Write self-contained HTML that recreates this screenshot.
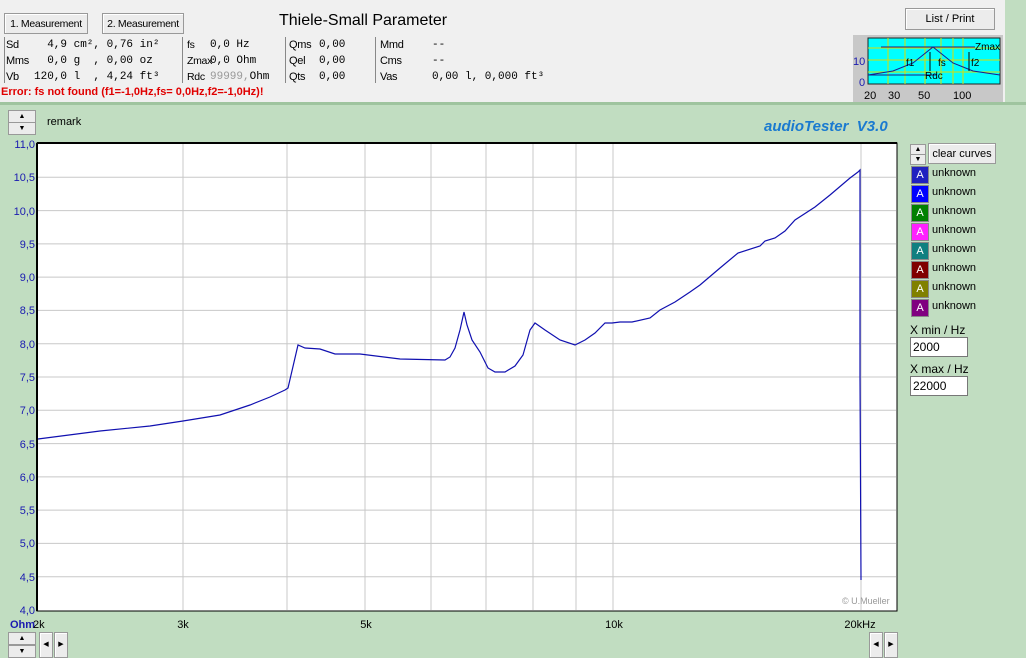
<!DOCTYPE html>
<html><head><style>
body{margin:0;width:1026px;height:657px;overflow:hidden;background:#c1ddc1;font-family:"Liberation Sans",sans-serif;position:relative}
.a{position:absolute;white-space:nowrap}
.top{left:0;top:0;width:1005px;height:102px;background:#f0f0f0}
.btn{background:#ececec;border:1px solid #999;box-shadow:inset 1px 1px #fff;font-size:11px;text-align:center;line-height:20px;white-space:nowrap;overflow:hidden}
.m{font-family:"Liberation Mono",monospace;font-size:11px}
.s{font-size:11px;letter-spacing:-0.3px}
.leg{left:911px;width:16px;height:16px;color:#fff;font-size:11px;text-align:center;line-height:16px;border:1px solid #888}
.lt{left:932px;font-size:11px}
.spin{width:26px;height:11px;background:#ececec;border:1px solid #999;font-size:7px;text-align:center;line-height:11px}
</style></head><body>
<div class="a top"></div>
<div class="a" style="left:0;top:102px;width:1026px;height:3px;background:#9fc49f"></div>
<div class="a btn" style="left:4px;top:13px;width:82px;height:19px;font-size:10.5px;letter-spacing:-0.3px">1. Measurement</div>
<div class="a btn" style="left:102px;top:13px;width:80px;height:19px;font-size:10.5px;letter-spacing:-0.3px">2. Measurement</div>
<div class="a" style="left:279px;top:12px;font-size:16px">Thiele-Small Parameter</div>
<div class="a" style="left:4px;top:37px;width:1px;height:46px;background:#888"></div>
<div class="a" style="left:182px;top:37px;width:1px;height:46px;background:#888"></div>
<div class="a" style="left:285px;top:37px;width:1px;height:46px;background:#888"></div>
<div class="a" style="left:375px;top:37px;width:1px;height:46px;background:#888"></div>
<div class="a s" style="left:6px;top:37px;line-height:16px">Sd<br>Mms<br>Vb</div>
<div class="a m" style="left:34px;top:37px;line-height:16px;white-space:pre">  4,9 cm², 0,76 in²
  0,0 g  , 0,00 oz
120,0 l  , 4,24 ft³</div>
<div class="a s" style="left:187px;top:37px;line-height:16px;font-size:10.5px">fs<br>Zmax<br>Rdc</div>
<div class="a m" style="left:210px;top:37px;line-height:16px;white-space:pre">0,0 Hz
0,0 Ohm
<span style="color:#999">99999,</span>Ohm</div>
<div class="a s" style="left:289px;top:37px;line-height:16px">Qms<br>Qel<br>Qts</div>
<div class="a m" style="left:319px;top:37px;line-height:16px">0,00<br>0,00<br>0,00</div>
<div class="a s" style="left:380px;top:37px;line-height:16px">Mmd<br>Cms<br>Vas</div>
<div class="a m" style="left:432px;top:37px;line-height:16px;white-space:pre">--
--
0,00 l, 0,000 ft³</div>
<div class="a" style="left:1px;top:86px;font-size:11px;font-weight:bold;color:#e00000">Error: fs not found (f1=-1,0Hz,fs= 0,0Hz,f2=-1,0Hz)!</div>
<div class="a btn" style="left:905px;top:8px;width:88px;height:20px">List / Print</div>
<svg class="a" style="left:853px;top:35px" width="150" height="67">
<rect x="0" y="0" width="150" height="67" fill="#c8c8c8"/>
<rect x="15" y="3" width="132" height="46" fill="#00ffff" stroke="#222"/>
<g stroke="#dddd00" stroke-width="1"><line x1="15" y1="13" x2="147" y2="13"/><line x1="15" y1="25" x2="147" y2="25"/><line x1="15" y1="37" x2="147" y2="37"/>
<line x1="35" y1="3" x2="35" y2="49"/><line x1="52" y1="3" x2="52" y2="49"/><line x1="72" y1="3" x2="72" y2="49"/><line x1="88" y1="3" x2="88" y2="49"/><line x1="100" y1="3" x2="100" y2="49"/><line x1="110" y1="3" x2="110" y2="49"/></g>
<polyline fill="none" stroke="#1a1a8c" points="15,40 40,36 60,28 80,12 100,28 120,36 147,40"/>
<line x1="28" y1="12" x2="122" y2="12" stroke="#1a1a8c"/><line x1="15" y1="40" x2="83" y2="40" stroke="#1a1a8c"/>
<line x1="77" y1="17" x2="77" y2="36" stroke="#000"/><line x1="116" y1="17" x2="116" y2="36" stroke="#000"/>
<g font-size="10" font-family="Liberation Sans"><text x="122" y="15">Zmax</text><text x="53" y="31">f1</text><text x="85" y="31">fs</text><text x="118" y="31">f2</text><text x="72" y="44">Rdc</text>
<text x="0" y="30" fill="#1a1ab0" font-size="11">10</text><text x="6" y="51" fill="#1a1ab0" font-size="11">0</text>
<text x="11" y="64" font-size="11">20</text><text x="35" y="64" font-size="11">30</text><text x="65" y="64" font-size="11">50</text><text x="100" y="64" font-size="11">100</text></g>
</svg>
<div class="a spin" style="left:8px;top:110px">▲</div><div class="a spin" style="left:8px;top:122px">▼</div>
<div class="a" style="left:47px;top:116px;font-size:11px">remark</div>
<div class="a" style="left:764px;top:118px;font-size:15px;font-weight:bold;font-style:italic;color:#1a7ad0">audioTester&nbsp; V3.0</div>
<svg class="a" style="left:0;top:0" width="1026" height="657">
<rect x="37" y="143" width="860" height="468" fill="#fff" stroke="#000"/>
<line x1="37" y1="143" x2="897" y2="143" stroke="#000" stroke-width="2"/>
<line x1="37" y1="143" x2="37" y2="611" stroke="#000" stroke-width="2"/>
<g stroke="#c8c8c8">
<line x1="38" y1="177.3" x2="896" y2="177.3"/><line x1="38" y1="210.6" x2="896" y2="210.6"/><line x1="38" y1="243.9" x2="896" y2="243.9"/><line x1="38" y1="277.1" x2="896" y2="277.1"/><line x1="38" y1="310.4" x2="896" y2="310.4"/><line x1="38" y1="343.7" x2="896" y2="343.7"/><line x1="38" y1="377" x2="896" y2="377"/><line x1="38" y1="410.3" x2="896" y2="410.3"/><line x1="38" y1="443.6" x2="896" y2="443.6"/><line x1="38" y1="476.9" x2="896" y2="476.9"/><line x1="38" y1="510.1" x2="896" y2="510.1"/><line x1="38" y1="543.4" x2="896" y2="543.4"/><line x1="38" y1="576.7" x2="896" y2="576.7"/>
<line x1="183" y1="144" x2="183" y2="610"/><line x1="287" y1="144" x2="287" y2="610"/><line x1="365" y1="144" x2="365" y2="610"/><line x1="431" y1="144" x2="431" y2="610"/><line x1="486" y1="144" x2="486" y2="610"/><line x1="533" y1="144" x2="533" y2="610"/><line x1="576" y1="144" x2="576" y2="610"/><line x1="613" y1="144" x2="613" y2="610"/><line x1="861" y1="144" x2="861" y2="610"/>
</g>
<polyline fill="none" stroke="#1010b0" stroke-width="1.2" points="38,439 100,431 150,426 183,421 220,415 250,405 270,397 285,390 288,388 298,345 305,348 320,349 335,354 360,354 400,359 445,360 450,357 455,348 460,330 464,312 467,325 472,340 480,352 488,368 495,372 505,372 515,366 523,355 530,330 535,323 545,330 560,340 575,345 585,340 595,333 605,323 612,323 620,322 632,322 650,318 660,310 675,302 690,292 700,285 720,268 738,253 760,246 765,241 775,238 785,231 795,220 815,207 830,195 850,178 858,172 860,170 860,376 861,580"/>
<text x="842" y="604" font-size="9" fill="#999" font-family="Liberation Sans">© U.Mueller</text>
<g font-size="11" font-family="Liberation Sans" fill="#1a1ab0" text-anchor="end">
<text x="35" y="148">11,0</text><text x="35" y="181">10,5</text><text x="35" y="215">10,0</text><text x="35" y="248">9,5</text><text x="35" y="281">9,0</text><text x="35" y="314">8,5</text><text x="35" y="348">8,0</text><text x="35" y="381">7,5</text><text x="35" y="414">7,0</text><text x="35" y="448">6,5</text><text x="35" y="481">6,0</text><text x="35" y="514">5,5</text><text x="35" y="547">5,0</text><text x="35" y="581">4,5</text><text x="35" y="614">4,0</text></g>
<g font-size="11" font-family="Liberation Sans" text-anchor="middle"><text x="183" y="628">3k</text><text x="366" y="628">5k</text><text x="614" y="628">10k</text><text x="860" y="628">20kHz</text></g>
<text x="10" y="628" font-size="11" font-family="Liberation Sans" font-weight="bold" fill="#1a1ab0">Ohm</text><text x="33" y="628" font-size="11" font-family="Liberation Sans">2k</text>
</svg>
<div class="a spin" style="left:8px;top:632px">▲</div><div class="a spin" style="left:8px;top:645px">▼</div>
<div class="a btn" style="left:39px;top:632px;width:12px;height:24px;font-size:7px;line-height:24px">◀</div>
<div class="a btn" style="left:54px;top:632px;width:12px;height:24px;font-size:7px;line-height:24px">▶</div>
<div class="a btn" style="left:869px;top:632px;width:12px;height:24px;font-size:7px;line-height:24px">◀</div>
<div class="a btn" style="left:884px;top:632px;width:12px;height:24px;font-size:7px;line-height:24px">▶</div>
<div class="a spin" style="left:910px;top:144px;width:14px;height:9px;line-height:9px">▲</div><div class="a spin" style="left:910px;top:154px;width:14px;height:9px;line-height:9px">▼</div>
<div class="a btn" style="left:928px;top:143px;width:66px;height:19px">clear curves</div>
<div class="a leg" style="top:166px;background:#2020c0">A</div><div class="a lt" style="top:167px">unknown</div>
<div class="a leg" style="top:185px;background:#0000ff">A</div><div class="a lt" style="top:186px">unknown</div>
<div class="a leg" style="top:204px;background:#008000">A</div><div class="a lt" style="top:205px">unknown</div>
<div class="a leg" style="top:223px;background:#ff20ff">A</div><div class="a lt" style="top:224px">unknown</div>
<div class="a leg" style="top:242px;background:#108080">A</div><div class="a lt" style="top:243px">unknown</div>
<div class="a leg" style="top:261px;background:#800000">A</div><div class="a lt" style="top:262px">unknown</div>
<div class="a leg" style="top:280px;background:#808000">A</div><div class="a lt" style="top:281px">unknown</div>
<div class="a leg" style="top:299px;background:#800080">A</div><div class="a lt" style="top:300px">unknown</div>
<div class="a" style="left:910px;top:323px;font-size:12px">X min / Hz</div>
<div class="a" style="left:910px;top:337px;width:54px;height:18px;background:#fff;border:1px solid #777;font-size:12px;line-height:18px;padding-left:2px">2000</div>
<div class="a" style="left:910px;top:362px;font-size:12px">X max / Hz</div>
<div class="a" style="left:910px;top:376px;width:54px;height:18px;background:#fff;border:1px solid #777;font-size:12px;line-height:18px;padding-left:2px">22000</div>
</body></html>
